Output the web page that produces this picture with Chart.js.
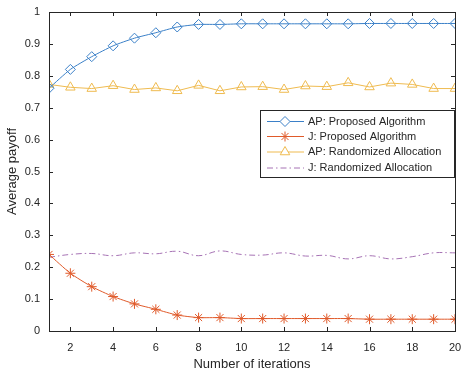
<!DOCTYPE html>
<html>
<head>
<meta charset="utf-8">
<script src="https://cdn.jsdelivr.net/npm/chart.js@4.4.0/dist/chart.umd.min.js"></script>
<style>
  html, body { margin: 0; padding: 0; background: #fff; }
  #wrap { width: 463px; height: 371px; }
</style>
</head>
<body>
<div id="wrap"><canvas id="chart"></canvas></div>
<script>
// Data
const iterations = [1, 2, 3, 4, 5, 6, 7, 8, 9, 10, 11, 12, 13, 14, 15, 16, 17, 18, 19, 20];
const apProposed = [0.761, 0.82, 0.86, 0.894, 0.918, 0.935, 0.953, 0.961, 0.961, 0.963,
                    0.963, 0.963, 0.963, 0.963, 0.963, 0.964, 0.964, 0.964, 0.964, 0.964];
const jProposed = [0.24, 0.181, 0.139, 0.108, 0.085, 0.068, 0.05, 0.042, 0.042, 0.039,
                   0.039, 0.039, 0.039, 0.039, 0.039, 0.037, 0.037, 0.037, 0.037, 0.037];
const apRandom = [0.773, 0.764, 0.76, 0.769, 0.757, 0.762, 0.753, 0.77, 0.753, 0.765,
                  0.766, 0.757, 0.768, 0.766, 0.778, 0.765, 0.777, 0.773, 0.76, 0.76];
const jRandom = [0.231, 0.24, 0.243, 0.236, 0.245, 0.242, 0.25, 0.236, 0.251, 0.24,
                 0.238, 0.245, 0.235, 0.237, 0.226, 0.236, 0.226, 0.233, 0.245, 0.245];
const xTicks = [2, 4, 6, 8, 10, 12, 14, 16, 18, 20];
const yTicks = [0, 0.1, 0.2, 0.3, 0.4, 0.5, 0.6, 0.7, 0.8, 0.9, 1];

const FONT = 'Liberation Sans, Arial, sans-serif';
const TEXT = '#262626';

function pts(values) {
    return values.map((v, i) => ({ x: iterations[i], y: v }));
}

// Box, inward ticks and the legend, drawn the MATLAB way
const matlabFrame = {
    id: 'matlabFrame',
    afterDatasetsDraw(chart) {
        const { ctx, chartArea: a, scales: { x, y } } = chart;
        ctx.save();
        ctx.strokeStyle = '#262626';
        ctx.lineWidth = 1;
        ctx.strokeRect(Math.round(a.left) + 0.5, Math.round(a.top) + 0.5,
                       Math.round(a.right - a.left), Math.round(a.bottom - a.top));
        ctx.beginPath();
        const len = 4;
        xTicks.forEach(t => {
            const px = Math.round(x.getPixelForValue(t)) + 0.5;
            ctx.moveTo(px, a.bottom); ctx.lineTo(px, a.bottom - len);
            ctx.moveTo(px, a.top); ctx.lineTo(px, a.top + len);
        });
        yTicks.forEach(t => {
            const py = Math.round(y.getPixelForValue(t)) + 0.5;
            ctx.moveTo(a.left, py); ctx.lineTo(a.left + len, py);
            ctx.moveTo(a.right, py); ctx.lineTo(a.right - len, py);
        });
        ctx.stroke();

        // legend
        const lx = 260, ly = 110, lw = 194, lh = 67;
        ctx.fillStyle = '#fff';
        ctx.fillRect(lx, ly, lw, lh);
        ctx.strokeStyle = '#262626';
        ctx.strokeRect(lx + 0.5, ly + 0.5, lw, lh);
        ctx.font = '11px ' + FONT;
        ctx.textBaseline = 'middle';
        const rows = [121.5, 136.5, 152, 168];
        chart.data.datasets.forEach((ds, i) => {
            const ry = rows[i];
            ctx.save();
            ctx.strokeStyle = ds.borderColor;
            ctx.lineWidth = ds.borderWidth;
            ctx.setLineDash(ds.borderDash || []);
            ctx.beginPath();
            ctx.moveTo(lx + 7, ry); ctx.lineTo(lx + 44, ry);
            ctx.stroke();
            ctx.setLineDash([]);
            if (ds.pointRadius > 0) {
                ctx.strokeStyle = ds.pointBorderColor;
                ctx.fillStyle = '#fff';
                Chart.helpers.drawPoint(ctx, {
                    pointStyle: ds.pointStyle, radius: ds.pointRadius,
                    borderWidth: ds.pointBorderWidth, rotation: 0
                }, lx + 25, ry);
            }
            ctx.restore();
            ctx.fillStyle = TEXT;
            ctx.fillText(ds.label, lx + 48, ry);
        });
        ctx.restore();
    }
};

const ctx = document.getElementById('chart').getContext('2d');
const chart = new Chart(ctx, {
    type: 'line',
    data: {
        datasets: [
            {
                label: 'AP: Proposed Algorithm',
                data: pts(apProposed),
                borderColor: '#3b80c8',
                borderWidth: 1,
                pointStyle: 'rectRot',
                pointRadius: 5,
                pointBorderWidth: 1,
                pointBackgroundColor: 'rgba(0,0,0,0)',
                pointBorderColor: '#3b80c8',
                tension: 0.2
            },
            {
                label: 'J: Proposed Algorithm',
                data: pts(jProposed),
                borderColor: '#e05a2a',
                borderWidth: 1,
                pointStyle: 'star',
                pointRadius: 5,
                pointBorderWidth: 1,
                pointBorderColor: '#e05a2a',
                tension: 0.2
            },
            {
                label: 'AP: Randomized Allocation',
                data: pts(apRandom),
                borderColor: '#efbb50',
                borderWidth: 1,
                pointStyle: 'triangle',
                pointRadius: 5.5,
                pointBorderWidth: 1,
                pointBackgroundColor: 'rgba(0,0,0,0)',
                pointBorderColor: '#efbb50',
                tension: 0
            },
            {
                label: 'J: Randomized Allocation',
                data: pts(jRandom),
                borderColor: '#a672b4',
                borderWidth: 1,
                borderDash: [6, 3, 1.5, 3],
                pointRadius: 0,
                tension: 0.4
            }
        ]
    },
    options: {
        responsive: true,
        maintainAspectRatio: false,
        animation: false,
        events: [],
        layout: { padding: { top: 12, right: 8, left: 0, bottom: 0 } },
        plugins: {
            legend: { display: false },
            tooltip: { enabled: false }
        },
        scales: {
            x: {
                type: 'linear',
                min: 1,
                max: 20,
                afterBuildTicks: s => { s.ticks = xTicks.map(v => ({ value: v })); },
                afterFit: s => { s.height = 40; s.paddingLeft = 0; s.paddingRight = 0; },
                grid: { display: false, drawTicks: false },
                border: { display: false },
                ticks: { color: TEXT, font: { family: FONT, size: 11 }, padding: 10, maxRotation: 0 },
                title: { display: true, text: 'Number of iterations', color: TEXT,
                         font: { family: FONT, size: 13 }, padding: { top: 0, bottom: -1 } }
            },
            y: {
                min: 0,
                max: 1,
                afterBuildTicks: s => { s.ticks = yTicks.map(v => ({ value: v })); },
                afterFit: s => { s.width = 49; s.paddingTop = 0; s.paddingBottom = 0; },
                grid: { display: false, drawTicks: false },
                border: { display: false },
                ticks: { color: TEXT, font: { family: FONT, size: 11 }, padding: 9,
                         callback: v => String(Math.round(v * 10) / 10) },
                title: { display: true, text: 'Average payoff', color: TEXT,
                         font: { family: FONT, size: 13 }, padding: { top: 5, bottom: 0 } }
            }
        }
    },
    plugins: [matlabFrame]
});
</script>
</body>
</html>
